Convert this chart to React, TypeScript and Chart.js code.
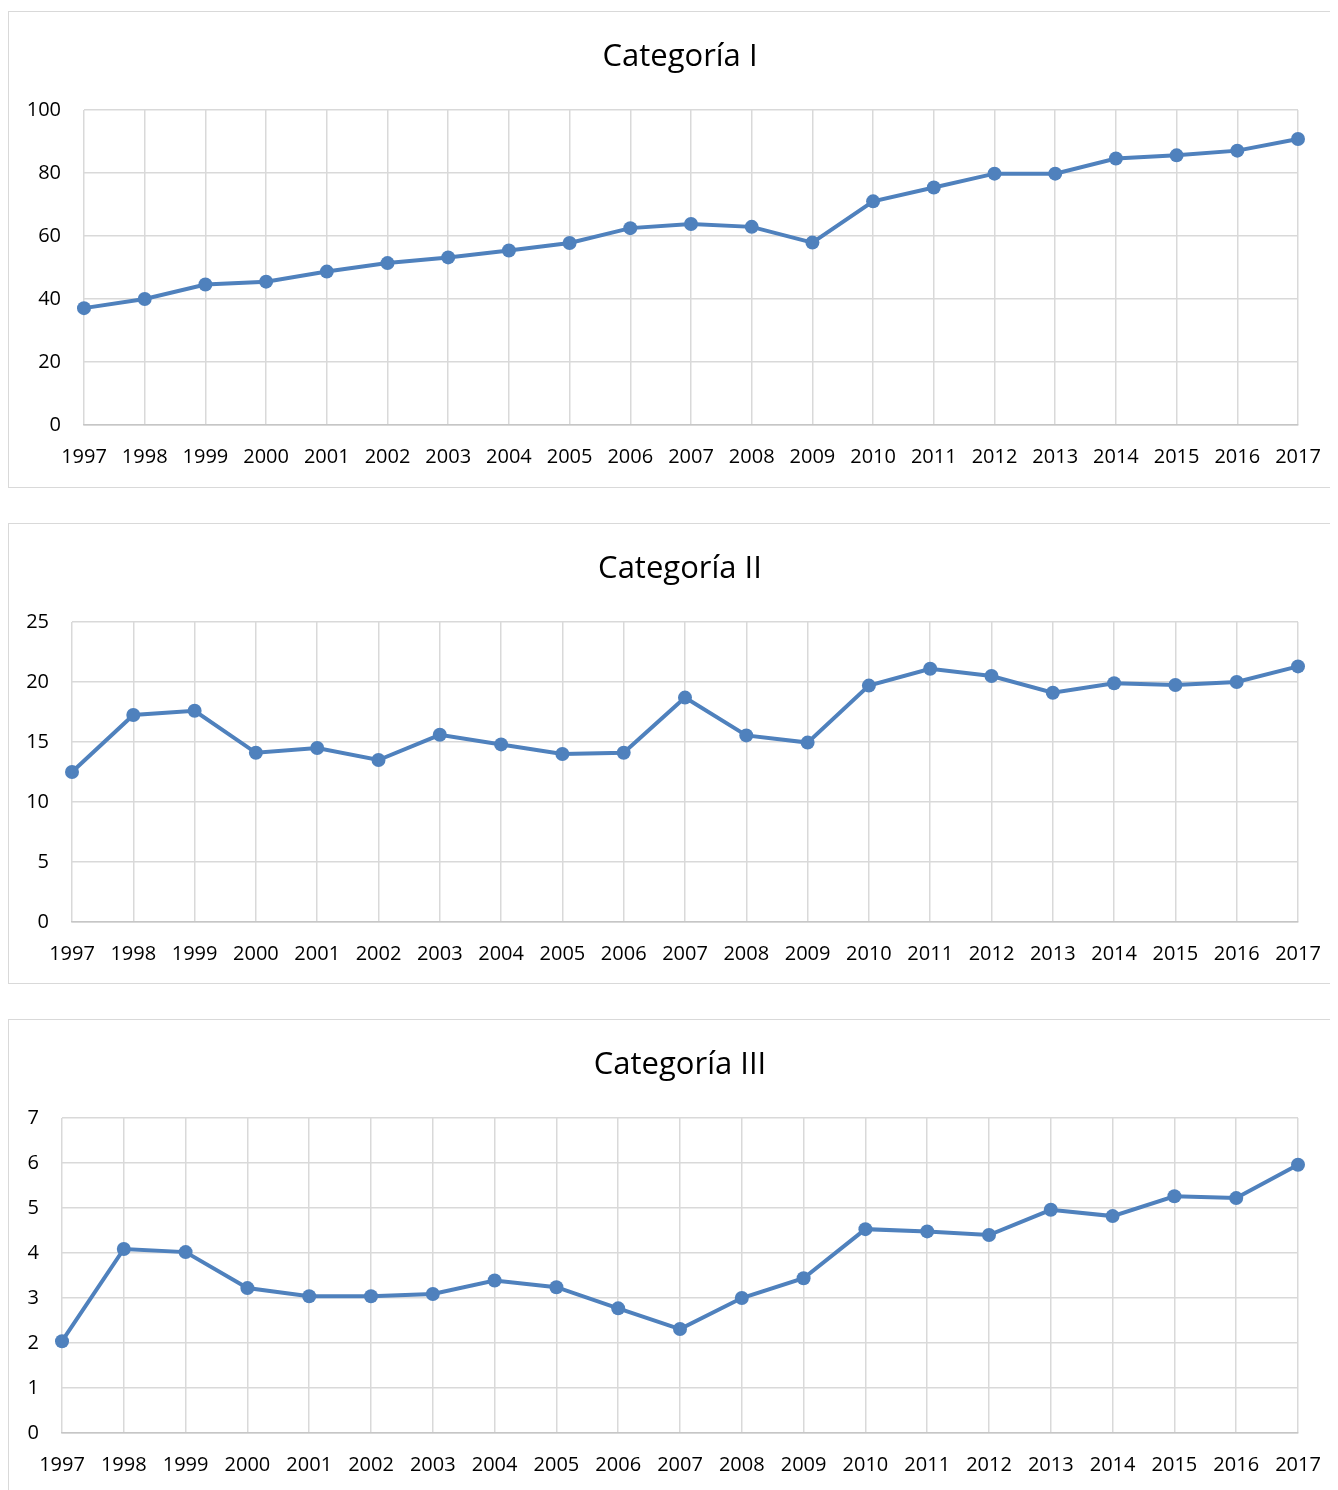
import React, { useEffect, useRef } from "react";
import { Chart, registerables } from "chart.js";

Chart.register(...registerables);

const years = ["1997","1998","1999","2000","2001","2002","2003","2004","2005","2006","2007","2008","2009","2010","2011","2012","2013","2014","2015","2016","2017"];

const cat1Values = [37.1, 40.0, 44.6, 45.5, 48.7, 51.4, 53.2, 55.4, 57.8, 62.5, 63.8, 62.9, 57.9, 71.0, 75.4, 79.8, 79.8, 84.6, 85.6, 87.1, 90.8];
const cat2Values = [12.5, 17.25, 17.6, 14.1, 14.5, 13.5, 15.6, 14.8, 14.0, 14.1, 18.7, 15.55, 14.95, 19.7, 21.1, 20.5, 19.1, 19.9, 19.75, 20.0, 21.3];
const cat3Values = [2.04, 4.09, 4.02, 3.22, 3.04, 3.04, 3.09, 3.39, 3.24, 2.77, 2.31, 3.0, 3.44, 4.53, 4.48, 4.4, 4.96, 4.82, 5.26, 5.22, 5.96];

const titles = ["Categoría I", "Categoría II", "Categoría III"];
const yMax = [100, 25, 7];
const yStep = [20, 5, 1];

const FONT = "'Open Sans', 'Noto Sans', sans-serif";
const LINE = "#4f81bd";

// Title drawn centred on the whole chart box (as in the spreadsheet original)
const centeredTitle = {
  id: "centeredTitle",
  afterDraw(chart: any, _args: any, opts: any) {
    const ctx = chart.ctx;
    ctx.save();
    ctx.fillStyle = "#000";
    ctx.font = `normal 31px ${FONT}`;
    ctx.textAlign = "center";
    ctx.textBaseline = "alphabetic";
    ctx.fillText(opts.text, chart.width / 2, 54);
    ctx.restore();
  },
};

type Props = {
  title: string;
  values: number[];
  max: number;
  step: number;
  boxHeight: number;
  axisWidth: number;
  plotHeight: number;
  marginTop: number;
};

function LineBox({ title, values, max, step, boxHeight, axisWidth, plotHeight, marginTop }: Props) {
  const ref = useRef<HTMLCanvasElement | null>(null);
  useEffect(() => {
    if (!ref.current) return;
    const chart = new Chart(ref.current, {
      type: "line",
      data: {
        labels: years,
        datasets: [
          {
            data: values,
            borderColor: LINE,
            backgroundColor: LINE,
            borderWidth: 4,
            pointRadius: 7,
            pointBackgroundColor: LINE,
            pointBorderColor: LINE,
            pointBorderWidth: 0,
            tension: 0,
          },
        ],
      },
      options: {
        animation: false,
        responsive: false,
        maintainAspectRatio: false,
        layout: { padding: { left: 0, right: 53, top: 98, bottom: 0 } },
        plugins: {
          legend: { display: false },
          tooltip: { enabled: false },
          title: { display: false },
          centeredTitle: { text: title },
        },
        scales: {
          x: {
            offset: false,
            grid: { color: "#d9d9d9", lineWidth: 1.5, drawTicks: false },
            border: { color: "#c6c6c6", width: 1.5 },
            ticks: {
              color: "#000",
              font: { family: FONT, size: 20, lineHeight: 1.2 },
              padding: 20,
              maxRotation: 0,
              autoSkip: false,
            },
            afterFit: (s: any) => {
              s.height = boxHeight - 2 - 98 - plotHeight;
            },
          },
          y: {
            min: 0,
            max: max,
            grid: { color: "#d9d9d9", lineWidth: 1.5, drawTicks: false },
            border: { display: false },
            ticks: {
              stepSize: step,
              color: "#000",
              font: { family: FONT, size: 20, lineHeight: 1.2 },
              padding: 23,
            },
            afterFit: (s: any) => {
              s.width = axisWidth;
            },
          },
        },
      },
      plugins: [centeredTitle],
    } as any);
    return () => chart.destroy();
  }, []);
  return (
    <div
      style={{
        width: 1344,
        height: boxHeight,
        boxSizing: "border-box",
        border: "1px solid #d9d9d9",
        marginTop: marginTop,
        background: "#fff",
      }}
    >
      <canvas ref={ref} width={1342} height={boxHeight - 2} style={{ display: "block", width: 1342, height: boxHeight - 2 }} />
    </div>
  );
}

export default function App() {
  return (
    <div style={{ width: 1330, height: 1482, overflow: "hidden", position: "relative", background: "#fff" }}>
      <LineBox title={titles[0]} values={cat1Values} max={yMax[0]} step={yStep[0]} boxHeight={477} axisWidth={75} plotHeight={315} marginTop={3} />
      <LineBox title={titles[1]} values={cat2Values} max={yMax[1]} step={yStep[1]} boxHeight={461} axisWidth={63} plotHeight={300} marginTop={35} />
      <LineBox title={titles[2]} values={cat3Values} max={yMax[2]} step={yStep[2]} boxHeight={477} axisWidth={53} plotHeight={315} marginTop={35} />
    </div>
  );
}
